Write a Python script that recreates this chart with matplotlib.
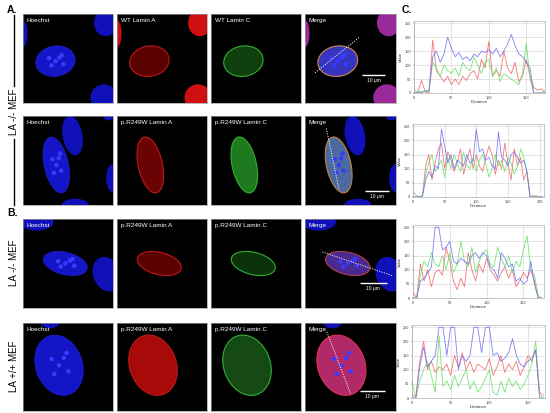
import matplotlib
matplotlib.use('Agg')
from matplotlib import pyplot as plt
from matplotlib.patches import Ellipse
import numpy as np

plt.rcParams['font.family'] = ['Liberation Sans', 'DejaVu Sans']

W, H = 550, 413

# ---- line profile data, distance step of 5 ----
step = 5
prof1_blue = [0, 0, 2, 5, 10, 130, 150, 110, 140, 200, 160, 130, 145, 120, 130, 115, 140, 130,
              150, 145, 155, 140, 160, 130, 150, 175, 210, 170, 140, 130, 110, 90, 0, 0, 0, 0]
prof1_red = [0, 2, 45, 5, 0, 190, 80, 60, 40, 60, 30, 50, 30, 60, 45, 70, 80, 50,
             120, 90, 185, 60, 80, 60, 150, 90, 70, 110, 40, 60, 120, 60, 20, 10, 15, 0]
prof1_green = [10, 5, 5, 10, 5, 110, 90, 60, 100, 80, 70, 90, 60, 110, 90, 80, 130, 100,
               70, 110, 120, 60, 90, 40, 70, 60, 50, 40, 30, 70, 180, 50, 0, 0, 0, 10]

prof2_blue = [0, 0, 0, 5, 60, 90, 70, 110, 100, 240, 180, 120, 150, 100, 130, 120, 110, 150, 120, 130,
              240, 160, 170, 130, 140, 110, 100, 230, 140, 130, 110, 150, 160, 140, 120, 130, 90, 0, 0, 0, 0, 0]
prof2_red = [0, 0, 0, 5, 110, 150, 60, 120, 170, 190, 100, 160, 130, 90, 120, 170, 80, 130, 170, 100,
             150, 110, 90, 140, 180, 150, 80, 130, 100, 190, 120, 60, 170, 110, 140, 60, 90, 0, 5, 0, 0, 0]
prof2_green = [20, 5, 0, 0, 80, 120, 150, 90, 110, 130, 70, 140, 100, 150, 120, 90, 160, 110, 100, 140,
               90, 130, 150, 120, 70, 100, 150, 110, 130, 90, 140, 120, 80, 110, 170, 140, 90, 0, 0, 5, 0, 0]

prof3_blue = [0, 0, 60, 70, 90, 110, 250, 250, 170, 180, 200, 130, 120, 140, 130, 120, 150, 160,
              140, 160, 150, 110, 100, 70, 160, 140, 110, 120, 60, 70, 50, 60, 130, 50, 0, 0]
prof3_red = [20, 0, 120, 60, 100, 40, 90, 100, 80, 180, 130, 60, 30, 70, 40, 160, 100, 60,
             120, 90, 140, 100, 80, 60, 90, 110, 70, 100, 40, 60, 90, 70, 100, 60, 0, 0]
prof3_green = [0, 0, 80, 130, 110, 160, 120, 110, 150, 100, 160, 90, 120, 200, 130, 110, 180, 90,
               130, 160, 170, 120, 110, 180, 140, 110, 150, 90, 130, 110, 170, 220, 100, 80, 10, 0]

prof4_blue = [0, 0, 110, 180, 110, 130, 150, 250, 250, 150, 250, 250, 100, 150, 130, 150, 250, 250,
              160, 250, 250, 150, 160, 130, 140, 160, 210, 150, 120, 110, 130, 140, 170, 0, 0]
prof4_red = [10, 5, 130, 200, 100, 130, 90, 110, 100, 120, 80, 150, 110, 160, 100, 130, 90, 120,
             110, 100, 140, 80, 110, 150, 90, 120, 100, 130, 80, 110, 150, 130, 170, 20, 10]
prof4_green = [60, 0, 60, 100, 130, 80, 20, 220, 40, 60, 30, 80, 40, 70, 100, 30, 60, 20,
               40, 70, 100, 20, 10, 60, 20, 70, 40, 60, 30, 50, 80, 120, 200, 10, 0]

profiles = [(prof1_blue, prof1_red, prof1_green, 175),
            (prof2_blue, prof2_red, prof2_green, 207),
            (prof3_blue, prof3_red, prof3_green, 178),
            (prof4_blue, prof4_red, prof4_green, 172)]

row_titles = [['Hoechst', 'WT Lamin A', 'WT Lamin C', 'Merge'],
              ['Hoechst', 'p.R249W Lamin A', 'p.R249W Lamin C', 'Merge'],
              ['Hoechst', 'p.R249W Lamin A', 'p.R249W Lamin C', 'Merge'],
              ['Hoechst', 'p.R249W Lamin A', 'p.R249W Lamin C', 'Merge']]

# nucleus: centre x, centre y, width, height, angle (panel fractions)
nuclei = [(0.36, 0.47, 0.44, 0.34, 10),
          (0.37, 0.45, 0.27, 0.64, 12),
          (0.47, 0.50, 0.50, 0.25, -14),
          (0.40, 0.52, 0.52, 0.70, 18)]

# neighbouring cells visible in the frames
neighbours = [[(0.92, 0.9, 0.26, 0.3, 0), (0.9, 0.06, 0.3, 0.3, 0), (0.0, 0.78, 0.1, 0.3, 0)],
              [(0.55, 0.78, 0.22, 0.45, 10), (1.0, 0.3, 0.15, 0.32, 0), (0.58, 0.0, 0.3, 0.14, 0),
               (0.95, 1.0, 0.12, 0.1, 0)],
              [(0.15, 0.97, 0.38, 0.2, 0), (0.93, 0.38, 0.3, 0.4, 20)],
              [(0.3, 1.0, 0.2, 0.12, 0)]]

dash_lines = [((0.11, 0.34), (0.6, 0.74)),
              ((0.235, 0.86), (0.375, 0.17)),
              ((0.19, 0.63), (0.97, 0.36)),
              ((0.24, 0.9), (0.5, 0.2))]

lamin_a_fill = ['#5a0000', '#6a0404', '#5a0202', '#a80a0a']
lamin_c_fill = ['#0f3f0f', '#1f7a1f', '#0c320c', '#154a15']
merge_fill = ['#3535c0', '#4a6aa0', '#4a2a90', '#b02a6a']
merge_edge = ['#d08a40', '#c08040', '#b04040', '#e03050']

img_cols = [(23, 113), (117, 207), (211, 301), (305, 396)]
img_rows = [(14, 103), (116, 205), (219, 308), (323, 411)]
plot_boxes = [(414, 21, 545, 93), (413, 124, 544, 197), (413, 225, 544, 298), (412, 325, 545, 398)]

hoechst_spots = [(-0.08, 0.05), (0.05, 0.06), (0.1, -0.05), (-0.05, -0.07), (0.0, 0.0), (0.08, 0.1)]


def rect(x0, y0, x1, y1):
    return [x0 / W, 1 - y1 / H, (x1 - x0) / W, (y1 - y0) / H]


fig = plt.figure(figsize=(5.5, 4.13), dpi=100)

for r in range(4):
    cx, cy, w, h, ang = nuclei[r]
    for c in range(4):
        ax = fig.add_axes(rect(img_cols[c][0], img_rows[r][0], img_cols[c][1], img_rows[r][1]))
        ax.set_facecolor('black')
        ax.set_xlim(0, 1)
        ax.set_ylim(0, 1)
        ax.set_xticks([])
        ax.set_yticks([])
        for s in ax.spines.values():
            s.set_color('#9a9a9a')
            s.set_linewidth(0.5)

        if c == 0:
            for (nx, ny, nw, nh, na) in neighbours[r]:
                ax.add_patch(Ellipse((nx, ny), nw, nh, angle=na, fc='#1010b8', ec='none'))
            ax.add_patch(Ellipse((cx, cy), w, h, angle=ang, fc='#1515c8', ec='#2020d0', lw=0.5))
            for dx, dy in hoechst_spots:
                ax.add_patch(Ellipse((cx + dx * w * 2, cy + dy * h * 2), 0.05, 0.05, fc='#3a3aff', ec='none'))
        elif c == 1:
            if r == 0:
                for (nx, ny, nw, nh, na) in neighbours[r]:
                    ax.add_patch(Ellipse((nx, ny), nw, nh, angle=na, fc='#d01010', ec='none'))
            ax.add_patch(Ellipse((cx, cy), w, h, angle=ang, fc=lamin_a_fill[r], ec='#c01818', lw=0.8))
        elif c == 2:
            ax.add_patch(Ellipse((cx, cy), w, h, angle=ang, fc=lamin_c_fill[r], ec='#30b030', lw=0.8))
        else:
            for (nx, ny, nw, nh, na) in neighbours[r]:
                col = '#9a2a9a' if r == 0 else '#1010b8'
                ax.add_patch(Ellipse((nx, ny), nw, nh, angle=na, fc=col, ec='none'))
            ax.add_patch(Ellipse((cx, cy), w, h, angle=ang, fc=merge_fill[r], ec=merge_edge[r], lw=0.8))
            for dx, dy in hoechst_spots:
                ax.add_patch(Ellipse((cx + dx * w * 2, cy + dy * h * 2), 0.05, 0.05, fc='#3a3aff', ec='none'))
            (x0, y0), (x1, y1) = dash_lines[r]
            ax.plot([x0, x1], [y0, y1], color='white', lw=0.6, ls=(0, (1.5, 1.5)))
            bar_y = [0.31, 0.16, 0.28, 0.23][r]
            bar_x = [(0.63, 0.88), (0.66, 0.92), (0.6, 0.9), (0.6, 0.88)][r]
            ax.plot(bar_x, [bar_y, bar_y], color='white', lw=1.0, solid_capstyle='butt')
            ax.text(sum(bar_x) / 2, bar_y - 0.06, '10 μm', color='white', fontsize=3.5,
                    ha='center', va='center')
        ax.text(0.04, 0.95, row_titles[r][c], color='white', fontsize=4.6, ha='left', va='top',
                transform=ax.transAxes)

# ---- line profiles ----
for i, (blue, red, green, xmax) in enumerate(profiles):
    ax = fig.add_axes(rect(*plot_boxes[i]))
    dist = np.arange(len(blue)) * step
    ax.plot(dist, red, color='#f06060', lw=0.6, alpha=0.85)
    ax.plot(dist, green, color='#60e060', lw=0.6, alpha=0.85)
    ax.plot(dist, blue, color='#6a6af5', lw=0.6, alpha=0.85)
    ax.set_xlim(0, xmax)
    ax.set_ylim(0, 258)
    ax.set_yticks([0, 50, 100, 150, 200, 250])
    ax.set_xticks(np.arange(0, xmax, 50))
    ax.grid(color='#d0d0d0', lw=0.4)
    ax.tick_params(labelsize=2.8, length=1, width=0.3, pad=1, colors='#444444')
    ax.set_xlabel('Distance', fontsize=3.2, labelpad=0.5, color='#333333')
    ax.set_ylabel('Value', fontsize=3, labelpad=1, color='#333333')
    for s in ax.spines.values():
        s.set_color('#999999')
        s.set_linewidth(0.4)

# ---- labels ----
fig.text(7 / W, 1 - 10 / H, 'A.', fontsize=7.5, fontweight='bold', va='center')
fig.text(7 / W, 1 - 213 / H, 'B.', fontsize=7.5, fontweight='bold', va='center')
fig.text(402 / W, 1 - 10 / H, 'C.', fontsize=7.5, fontweight='bold', va='center')

fig.text(14 / W, 1 - 112 / H, 'LA -/- MEF', fontsize=7, rotation=90, ha='center', va='center')
fig.text(14 / W, 1 - 263 / H, 'LA -/- MEF', fontsize=7, rotation=90, ha='center', va='center')
fig.text(14 / W, 1 - 366 / H, 'LA +/+ MEF', fontsize=7, rotation=90, ha='center', va='center')
fig.add_artist(plt.Line2D([14 / W, 14 / W], [1 - 15 / H, 1 - 86 / H], color='black', lw=1))
fig.add_artist(plt.Line2D([14 / W, 14 / W], [1 - 139 / H, 1 - 205 / H], color='black', lw=1))

fig.savefig('out.png', dpi=100)
